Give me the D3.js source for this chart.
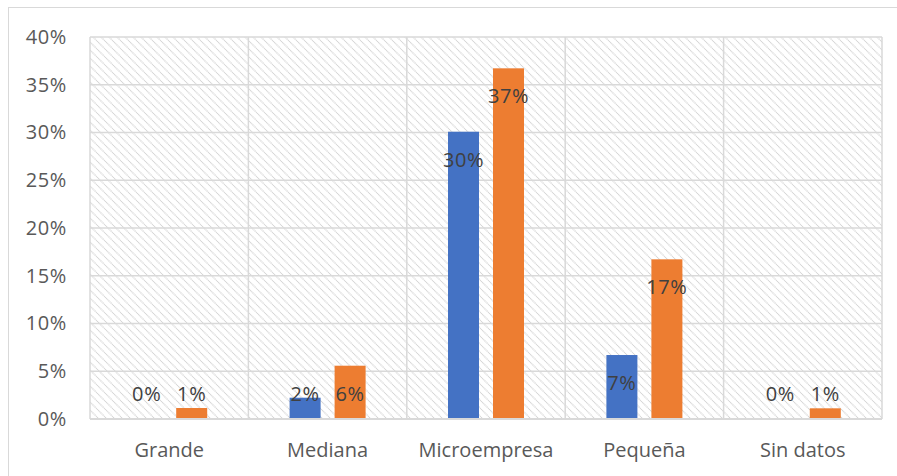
<!DOCTYPE html>
<html><head><meta charset="utf-8">
<script src="https://cdn.jsdelivr.net/npm/d3@7"></script>
<style>body{margin:0;background:#fff;} svg{display:block;}</style>
</head><body>
<svg id="chart" width="897" height="476"></svg>
<script>
const categories = ["Grande", "Mediana", "Microempresa", "Pequeña", "Sin datos"];
const seriesA = [0.0, 2.23, 30.08, 6.70, 0.0];
const seriesB = [1.15, 5.58, 36.72, 16.72, 1.12];
const yTicks = [0, 5, 10, 15, 20, 25, 30, 35, 40];
const colors = ["#4472C4", "#ED7D31"];

const svg = d3.select("#chart");
const plot = {left: 90, right: 882, top: 37, bottom: 419};
const font = "'Open Sans', sans-serif";
const fs = 20;
const textColor = "#595959";
const gridColor = "#d9d9d9";

// outer chart border
svg.append("rect").attr("x", 8.5).attr("y", 7.5).attr("width", 920).attr("height", 500)
  .attr("fill", "#fff").attr("stroke", gridColor).attr("stroke-width", 1);

const defs = svg.append("defs");
const pat = defs.append("pattern").attr("id", "hatch").attr("patternUnits", "userSpaceOnUse")
  .attr("width", 8).attr("height", 8);
pat.append("rect").attr("width", 8).attr("height", 8).attr("fill", "#fff");
pat.append("path").attr("d", "M-2,6 L2,10 M0,0 L8,8 M6,-2 L10,2")
  .attr("stroke", "#d4d4d4").attr("stroke-width", 1.3).attr("stroke-dasharray", "1,0.6");

const x0 = d3.scaleBand().domain(categories).range([plot.left, plot.right]).padding(0);
const y = d3.scaleLinear().domain([0, 40]).range([plot.bottom, plot.top]);

svg.append("rect").attr("x", plot.left).attr("y", plot.top)
  .attr("width", plot.right - plot.left).attr("height", plot.bottom - plot.top)
  .attr("fill", "url(#hatch)");

// horizontal gridlines
svg.append("g").selectAll("line").data(yTicks).join("line")
  .attr("x1", plot.left).attr("x2", plot.right)
  .attr("y1", d => y(d)).attr("y2", d => y(d))
  .attr("stroke", gridColor).attr("stroke-width", 1.5);

// vertical gridlines at category boundaries
const bounds = categories.map(c => x0(c)).concat([plot.right]);
svg.append("g").selectAll("line").data(bounds).join("line")
  .attr("x1", d => d).attr("x2", d => d)
  .attr("y1", plot.top).attr("y2", plot.bottom)
  .attr("stroke", gridColor).attr("stroke-width", 1.5);

// y axis labels
const yAxis = d3.axisLeft(y).tickValues(yTicks).tickFormat(d => d + "%").tickSize(0).tickPadding(0);
const yg = svg.append("g").attr("transform", `translate(67,0)`).call(yAxis);
yg.select(".domain").remove();
yg.selectAll("text").attr("font-family", font).attr("font-size", fs).attr("fill", textColor)
  .attr("letter-spacing", 0.6);

// x axis labels
const xAxis = d3.axisBottom(x0).tickSize(0).tickPadding(0);
const xg = svg.append("g").attr("transform", `translate(0,${plot.bottom})`).call(xAxis);
xg.select(".domain").remove();
xg.selectAll("text").attr("font-family", font).attr("font-size", fs).attr("fill", textColor)
  .attr("dy", null).attr("y", 38);

// bars
const bw = 31, gap = 14;
const rows = [];
categories.forEach((c, i) => {
  const cx = x0(c) + x0.bandwidth() / 2;
  rows.push({c, v: seriesA[i], s: 0, x: cx - gap / 2 - bw});
  rows.push({c, v: seriesB[i], s: 1, x: cx + gap / 2});
});
svg.append("g").selectAll("rect").data(rows).join("rect")
  .attr("x", d => d.x).attr("width", bw)
  .attr("y", d => y(d.v)).attr("height", d => y(0) - y(d.v))
  .attr("fill", d => colors[d.s]);

// bottom axis line
svg.append("line").attr("x1", plot.left).attr("x2", plot.right)
  .attr("y1", plot.bottom).attr("y2", plot.bottom)
  .attr("stroke", gridColor).attr("stroke-width", 2);

// data labels
svg.append("g").selectAll("text").data(rows).join("text")
  .attr("x", d => d.x + bw / 2)
  .attr("y", d => Math.min(y(d.v) + 28, plot.bottom - 25))
  .attr("dy", "0.35em")
  .attr("text-anchor", "middle")
  .attr("font-family", font).attr("font-size", fs).attr("fill", "#404040")
  .attr("letter-spacing", 0.6)
  .text(d => Math.round(d.v) + "%");
</script>
</body></html>
